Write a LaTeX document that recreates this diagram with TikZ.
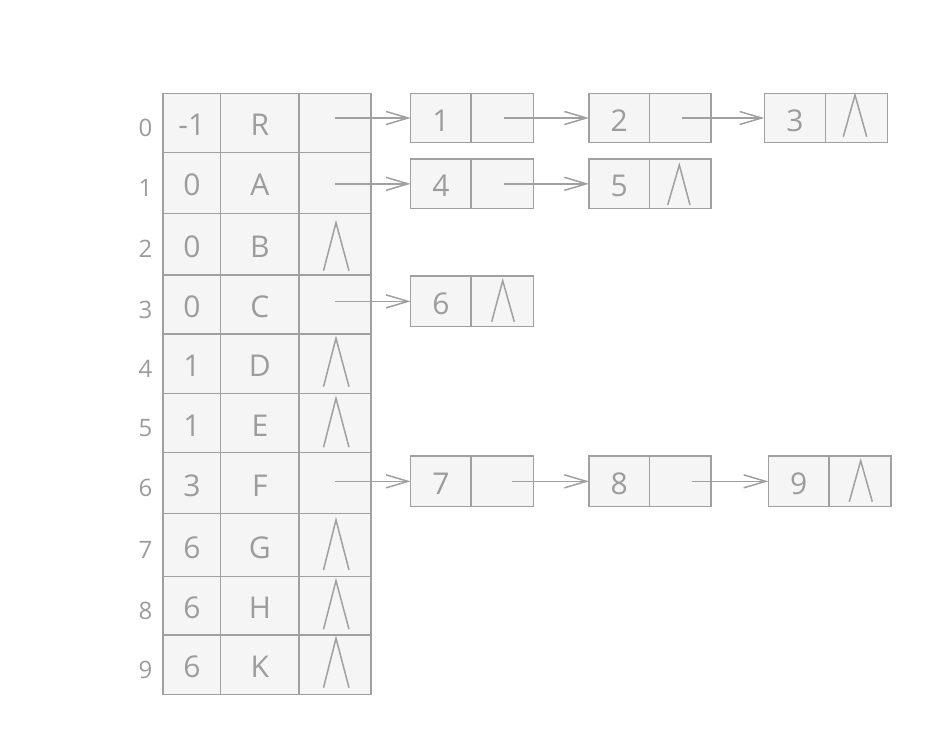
\documentclass[tikz,border=0pt]{standalone}
\usepackage{fontspec}
\setmainfont{Open Sans}
\usetikzlibrary{arrows.meta}
\definecolor{lineg}{HTML}{A0A0A0}
\definecolor{textg}{HTML}{9C9C9C}
\definecolor{cellf}{HTML}{F5F5F5}
\newcommand\mklnode[7]{%
  \pgfmathsetmacro\lcy{(#5+#6)/2}\pgfmathsetmacro\lh{#6-#5}%
  \pgfmathsetmacro\ldx{(#2+#3)/2}\pgfmathsetmacro\ldw{#3-#2}%
  \pgfmathsetmacro\lpx{(#3+#4)/2}\pgfmathsetmacro\lpw{#4-#3}%
  \node[cellbox, minimum width=\ldw pt, minimum height=\lh pt] (#1d) at (\ldx,\lcy) {#7};
  \node[cellbox, minimum width=\lpw pt, minimum height=\lh pt] (#1p) at (\lpx,\lcy) {};
}
\begin{document}
\begin{tikzpicture}[x=1pt,y=-1pt,
  cellbox/.style={draw=lineg, fill=cellf, line width=1.5pt, inner sep=0pt, outer sep=0pt,
    text=textg, font=\fontsize{30}{30}\selectfont, text height=26pt, text depth=0pt, anchor=center},
  idxlabel/.style={text=textg, font=\fontsize{24}{24}\selectfont, inner sep=0pt,
    text height=27pt, text depth=0pt},
  nullmark/.style={draw=lineg, line width=1.5pt},
  ptrarrow/.style={draw=lineg, line width=1.5pt,
    -{Straight Barb[length=22pt,width=13pt,line width=1.5pt]}},
]
\useasboundingbox[fill=white] (0,0) rectangle (946,736);

% head table
\foreach \ri/\rp/\rn/\rt/\rb/\nt/\nb in {
  0/-1/R/93.3/152.3/0/0,
  1/0/A/152.3/213.3/0/0,
  2/0/B/213.3/275/222.7/270.7,
  3/0/C/275/334/0/0,
  4/1/D/334/393.3/338.3/386.7,
  5/1/E/393.3/452.7/398.3/447.3,
  6/3/F/452.7/513.3/0/0,
  7/6/G/513.3/576.7/520/570,
  8/6/H/576.7/635/580.7/629.3,
  9/6/K/635/694.3/638.3/687.7}{
  \pgfmathsetmacro\rh{\rb-\rt}
  \pgfmathsetmacro\rc{(\rt+\rb)/2}
  \node[idxlabel] (idx\ri) at (145.5,\rc) {\ri};
  \node[cellbox, minimum width=57.7pt, minimum height=\rh pt] (par\ri) at (191.85,\rc) {\rp};
  \node[cellbox, minimum width=78.3pt, minimum height=\rh pt] (nam\ri) at (259.85,\rc) {\rn};
  \node[cellbox, minimum width=72pt, minimum height=\rh pt] (ptr\ri) at (335,\rc) {};
  \ifdim\nt pt>1pt \draw[nullmark] (323.5,\nb) -- (336,\nt) -- (349,\nb); \fi
}

% child lists
\mklnode{n1}{410.7}{471}{533.3}{93.3}{142.7}{1}
\mklnode{n2}{589}{649.3}{711}{93.3}{142.7}{2}
\mklnode{n3}{764.3}{825.7}{887.3}{93.3}{142.7}{3}
\mklnode{n4}{410.7}{471}{533.3}{159}{208.7}{4}
\mklnode{n5}{589}{649.3}{711}{159}{208.7}{5}
\mklnode{n6}{410.7}{471}{533.3}{276}{326.7}{6}
\mklnode{n7}{410.7}{471}{533.3}{456}{506.7}{7}
\mklnode{n8}{589}{649.3}{711}{456}{506.7}{8}
\mklnode{n9}{768.3}{829}{891}{456}{506.7}{9}

% null pointers in list nodes
\draw[nullmark] (843.3,136.7) -- (855,95) -- (866.7,136.7);
\draw[nullmark] (667.7,205) -- (679.3,165) -- (690,205);
\draw[nullmark] (491.7,321.7) -- (502.7,280.7) -- (514.3,321.7);
\draw[nullmark] (849.3,501.7) -- (860.7,460.7) -- (872.3,501.7);

% arrows
\draw[ptrarrow] (n1d.west -| ptr0.center) -- (n1d.west);
\draw[ptrarrow] ([xshift=2pt]n1p.center) -- (n2d.west);
\draw[ptrarrow] ([xshift=2pt]n2p.center) -- (n3d.west);
\draw[ptrarrow] (n4d.west -| ptr1.center) -- (n4d.west);
\draw[ptrarrow] ([xshift=2pt]n4p.center) -- (n5d.west);
\draw[ptrarrow] (n6d.west -| ptr3.center) -- (n6d.west);
\draw[ptrarrow] (n7d.west -| ptr6.center) -- (n7d.west);
\draw[ptrarrow] ([xshift=10pt]n7p.center) -- (n8d.west);
\draw[ptrarrow] ([xshift=12pt]n8p.center) -- (n9d.west);
\end{tikzpicture}
\end{document}
